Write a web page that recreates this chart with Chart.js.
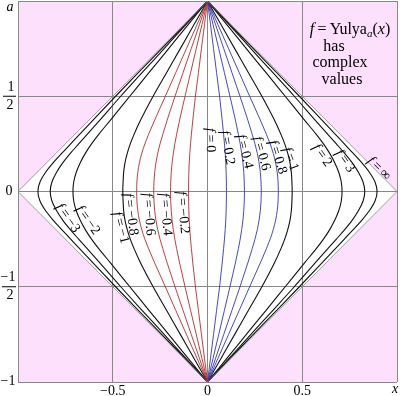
<!DOCTYPE html>
<html><head><meta charset="utf-8">
<script src="https://cdn.jsdelivr.net/npm/chart.js@4/dist/chart.umd.min.js"></script>
<style>html,body{margin:0;padding:0;background:#fff;}#wrap{width:400px;height:396px;}</style>
</head><body><div id="wrap"><canvas id="c" width="400" height="396"></canvas></div>
<script>
// y levels (upper half) at which curve x-positions were read
const yLevels = [0, 0.05, 0.1, 0.15, 0.2, 0.25, 0.3, 0.375, 0.5, 0.625, 0.75, 0.875, 1];
// x positions (right half) of each level curve |f| = 0.2, 0.4, 0.6, 0.8, 1, 2, 3, outer
const curveA = [0.100, 0.0995, 0.0985, 0.0965, 0.0935, 0.0895, 0.085, 0.0775, 0.0638, 0.0478, 0.0319, 0.016, 0];
const curveB = [0.195, 0.194, 0.1915, 0.187, 0.1805, 0.1725, 0.163, 0.1473, 0.1185, 0.0889, 0.0593, 0.0296, 0];
const curveC = [0.284, 0.2825, 0.279, 0.2725, 0.263, 0.2505, 0.236, 0.2128, 0.1715, 0.1286, 0.0858, 0.0429, 0];
const curveD = [0.374, 0.3725, 0.368, 0.3595, 0.347, 0.3305, 0.311, 0.2787, 0.2225, 0.1669, 0.1113, 0.0556, 0];
const curveE = [0.447, 0.4455, 0.4425, 0.4355, 0.4235, 0.4075, 0.3875, 0.353, 0.287, 0.2153, 0.1435, 0.0718, 0];
const curveF = [0.710, 0.706, 0.693, 0.672, 0.645, 0.612, 0.574, 0.512, 0.410, 0.308, 0.205, 0.103, 0];
const curveG = [0.830, 0.821, 0.797, 0.764, 0.724, 0.680, 0.635, 0.568, 0.458, 0.344, 0.229, 0.115, 0];
const curveH = [0.895, 0.884, 0.855, 0.815, 0.769, 0.722, 0.675, 0.604, 0.485, 0.364, 0.242, 0.121, 0];
// boundary f = ±infinity
const edgeX = [-1, 0, 1, 0, -1];
const edgeY = [0, 1, 0, -1, 0];
// tick labels
const xTickVals = [-0.5, 0, 0.5];
const xTickText = ['\u22120.5', '0', '0.5'];
// curve labels: [f value, x, y, rotation deg]
const curveLabels = [
  ['0', 0.015, 0.27, 88], ['0.2', 0.105, 0.23, 80], ['0.4', 0.195, 0.21, 76], ['0.6', 0.285, 0.20, 74],
  ['0.8', 0.37, 0.18, 72], ['1', 0.437, 0.17, 70], ['2', 0.605, 0.19, 55], ['3', 0.725, 0.16, 55],
  ['\u221E', 0.905, 0.12, 45],
  ['\u22120.2', -0.13, -0.11, 85], ['\u22120.4', -0.221, -0.12, 85], ['\u22120.6', -0.31, -0.12, 85],
  ['\u22120.8', -0.405, -0.12, 82], ['\u22121', -0.458, -0.19, 75], ['\u22122', -0.632, -0.15, 55],
  ['\u22123', -0.737, -0.14, 55]
];

function makeCurve(xs, sign) {
  const pts = [];
  for (let i = yLevels.length - 1; i >= 0; i--) pts.push({x: sign * xs[i], y: yLevels[i]});
  for (let i = 1; i < yLevels.length; i++) pts.push({x: sign * xs[i], y: -yLevels[i]});
  return pts;
}
const RED = '#b02c2c', BLUE = '#3434b4', BLACK = '#111';
const datasets = [];
datasets.push({data: edgeX.map((x, i) => ({x, y: edgeY[i]})), borderColor: '#8a8a8a', borderWidth: 0.8, tension: 0});
[[curveA, RED, BLUE], [curveB, RED, BLUE], [curveC, RED, BLUE], [curveD, RED, BLUE],
 [curveE, BLACK, BLACK], [curveF, BLACK, BLACK], [curveG, BLACK, BLACK], [curveH, BLACK, BLACK]].forEach(([xs, cl, cr]) => {
  const w = cl === BLACK ? 1.1 : 0.9;
  datasets.push({data: makeCurve(xs, -1), borderColor: cl, borderWidth: w, cubicInterpolationMode: 'monotone'});
  datasets.push({data: makeCurve(xs, 1), borderColor: cr, borderWidth: w, cubicInterpolationMode: 'monotone'});
});

const FONT = '"Liberation Serif", "DejaVu Serif", serif';
function drawRich(ctx, parts, x, y, rot, size) {
  let w = 0;
  parts.forEach(p => { ctx.font = (p.it ? 'italic ' : '') + (p.sz || size) + 'px ' + FONT; p.w = ctx.measureText(p.t).width; w += p.w; });
  ctx.save(); ctx.translate(x, y); ctx.rotate(rot * Math.PI / 180);
  let cx = -w / 2;
  ctx.textBaseline = 'middle'; ctx.textAlign = 'left'; ctx.fillStyle = '#000';
  parts.forEach(p => { ctx.font = (p.it ? 'italic ' : '') + (p.sz || size) + 'px ' + FONT; ctx.fillText(p.t, cx, p.dy || 0); cx += p.w; });
  ctx.restore();
}

const bgPlugin = {
  id: 'bg',
  beforeDraw(chart) {
    const {ctx, chartArea: a, scales: {x, y}} = chart;
    ctx.save();
    ctx.fillStyle = '#fce0fc';
    ctx.fillRect(a.left, a.top, a.right - a.left, a.bottom - a.top);
    ctx.fillStyle = '#fff';
    ctx.beginPath();
    edgeX.forEach((vx, i) => { const px = x.getPixelForValue(vx), py = y.getPixelForValue(edgeY[i]); i ? ctx.lineTo(px, py) : ctx.moveTo(px, py); });
    ctx.closePath(); ctx.fill();
    ctx.restore();
  },
  afterDraw(chart) {
    const {ctx, scales: {x, y}} = chart;
    ctx.save();
    ctx.fillStyle = '#000';
    // x ticks
    ctx.font = '14px ' + FONT; ctx.textAlign = 'center'; ctx.textBaseline = 'alphabetic';
    xTickVals.forEach((v, i) => ctx.fillText(xTickText[i], x.getPixelForValue(v), 395));
    ctx.font = 'italic 14px ' + FONT;
    ctx.fillText('x', x.getPixelForValue(1) - 2, 393);
    // y ticks
    ctx.textBaseline = 'middle';
    ctx.fillText('a', 10, y.getPixelForValue(1) + 6);
    ctx.font = '14px ' + FONT;
    ctx.fillText('0', 9, y.getPixelForValue(0));
    ctx.fillText('\u22121', 8, y.getPixelForValue(-1) - 1);
    const yh = y.getPixelForValue(0.5), yl = y.getPixelForValue(-0.5);
    ctx.fillText('1', 11, yh - 9); ctx.fillText('2', 10, yh + 9);
    ctx.fillText('\u22121', 8, yl - 9); ctx.fillText('2', 10, yl + 9);
    ctx.fillRect(3, yh - 0.5, 13, 1); ctx.fillRect(2, yl - 0.5, 14, 1);
    // curve labels
    curveLabels.forEach(([t, vx, vy, r]) => {
      drawRich(ctx, [{t: 'f', it: true}, {t: '\u2009=\u2009' + t}], x.getPixelForValue(vx), y.getPixelForValue(vy), r, 14);
    });
    // annotation
    drawRich(ctx, [{t: 'f', it: true}, {t: '\u2009=\u2009Yulya'}, {t: 'a', it: true, dy: 4, sz: 11}, {t: '('}, {t: 'x', it: true}, {t: ')'}], 350, 30, 0, 16);
    drawRich(ctx, [{t: 'has'}], 334, 47, 0, 16);
    drawRich(ctx, [{t: 'complex'}], 340, 63, 0, 16);
    drawRich(ctx, [{t: 'values'}], 342, 80, 0, 16);
    ctx.restore();
  }
};

new Chart(document.getElementById('c'), {
  type: 'line',
  data: {datasets: datasets.map(d => Object.assign({pointRadius: 0, fill: false}, d))},
  options: {
    indexAxis: 'y',
    responsive: false, animation: false,
    layout: {padding: {left: 18, top: 1, right: 3, bottom: 14}},
    plugins: {legend: {display: false}, tooltip: {enabled: false}},
    scales: {
      x: {type: 'linear', min: -1, max: 1, ticks: {display: false, stepSize: 0.5}, grid: {color: '#888', drawTicks: false, lineWidth: 1}, border: {display: false}},
      y: {type: 'linear', min: -1, max: 1, ticks: {display: false, stepSize: 0.5}, grid: {color: '#888', drawTicks: false, lineWidth: 1}, border: {display: false}}
    }
  },
  plugins: [bgPlugin]
});
</script></body></html>
